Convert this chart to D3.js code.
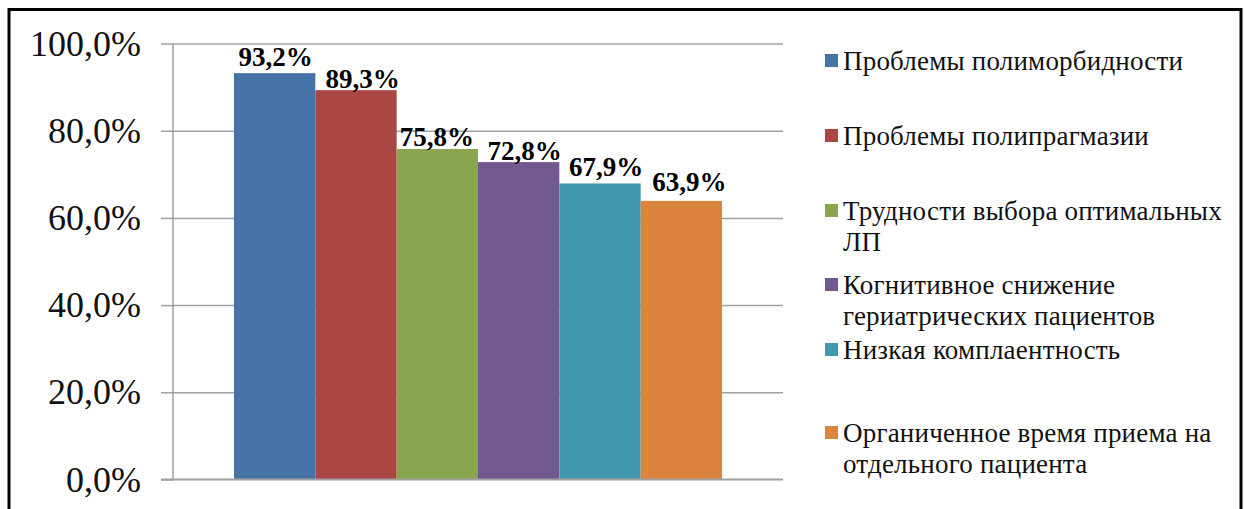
<!DOCTYPE html>
<html>
<head>
<meta charset="utf-8">
<script src="https://cdn.jsdelivr.net/npm/d3@7"></script>
<style>
  html, body { margin: 0; padding: 0; background: #fff; }
  svg { display: block; }
</style>
</head>
<body>
<svg id="chart" width="1245" height="509"></svg>
<script>
// Survey results: share of respondents naming each problem
const seriesNames = [
  "Проблемы полиморбидности",
  "Проблемы полипрагмазии",
  "Трудности выбора оптимальных ЛП",
  "Когнитивное снижение гериатрических пациентов",
  "Низкая комплаентность",
  "Органиченное время приема на отдельного пациента"
];
const seriesValues = [93.2, 89.3, 75.8, 72.8, 67.9, 63.9];
const seriesColors = ["#4572A7", "#AA4643", "#89A54E", "#71588F", "#4198AF", "#DB843D"];
const yTicks = [0, 20, 40, 60, 80, 100];
// legend text broken into lines as laid out in the legend box
const legendLines = [
  ["Проблемы полиморбидности"],
  ["Проблемы полипрагмазии"],
  ["Трудности выбора оптимальных", "ЛП"],
  ["Когнитивное снижение", "гериатрических пациентов"],
  ["Низкая комплаентность"],
  ["Органиченное время приема на", "отдельного пациента"]
];

const svg = d3.select("#chart");
const serif = "'Liberation Serif', 'Times New Roman', serif";

// outer frame
svg.append("rect")
  .attr("x", 9).attr("y", 9.5)
  .attr("width", 1232).attr("height", 540)
  .attr("fill", "#fff").attr("stroke", "#000").attr("stroke-width", 3);

const plot = { left: 173, right: 783, top: 43.5, bottom: 479.5 };

const y = d3.scaleLinear().domain([0, 100]).range([plot.bottom, plot.top]);
const x = d3.scaleBand()
  .domain(seriesNames)
  .range([plot.left, plot.right])
  .paddingInner(0)
  .paddingOuter(0.75);

// gridlines
const grid = svg.append("g")
  .attr("transform", `translate(${plot.left},0)`)
  .call(d3.axisLeft(y).tickValues(yTicks.slice(1)).tickSize(-(plot.right - plot.left)).tickFormat(""));
grid.select(".domain").remove();
grid.selectAll("line").attr("stroke", "#a0a0a0").attr("stroke-width", 1.5);

// y axis with tick marks and labels
const yAxis = svg.append("g")
  .attr("transform", `translate(${plot.left},0)`)
  .call(d3.axisLeft(y)
    .tickValues(yTicks)
    .tickSize(12)
    .tickPadding(20)
    .tickFormat(d => d3.format(".1f")(d).replace(".", ",") + "%"));
yAxis.select(".domain").attr("stroke", "#a0a0a0").attr("stroke-width", 1.5)
  .attr("d", `M0,${plot.top}V${plot.bottom}`);
yAxis.selectAll("line").attr("stroke", "#a0a0a0").attr("stroke-width", 1.5);
yAxis.selectAll("text")
  .attr("font-family", serif).attr("font-size", 36).attr("fill", "#111");

// bars
svg.append("g").selectAll("rect")
  .data(seriesValues)
  .join("rect")
  .attr("x", (d, i) => x(seriesNames[i]))
  .attr("y", d => y(d))
  .attr("width", x.bandwidth())
  .attr("height", d => y(0) - y(d))
  .attr("fill", (d, i) => seriesColors[i]);

// x axis line
svg.append("line")
  .attr("x1", plot.left - 12).attr("x2", plot.right)
  .attr("y1", plot.bottom).attr("y2", plot.bottom)
  .attr("stroke", "#a0a0a0").attr("stroke-width", 2);

// value labels (hand-placed offsets from the bar top centre)
const labelNudge = [[1, -7], [6.5, -2], [-0.5, -3], [6, -2], [6, -7.5], [8, -10]];
svg.append("g").selectAll("text")
  .data(seriesValues)
  .join("text")
  .attr("x", (d, i) => x(seriesNames[i]) + x.bandwidth() / 2 + labelNudge[i][0])
  .attr("y", (d, i) => y(d) + labelNudge[i][1])
  .attr("text-anchor", "middle")
  .attr("font-family", serif).attr("font-weight", "bold").attr("font-size", 27)
  .attr("fill", "#000")
  .text(d => d3.format(".1f")(d).replace(".", ",") + "%");

// legend
const legendBaselines = [70, 145, 220, 294, 359, 442];
const legendLineHeight = 30.5;
const legend = svg.append("g");
legendLines.forEach((lines, i) => {
  const b = legendBaselines[i];
  legend.append("rect")
    .attr("x", 825).attr("y", b - 16)
    .attr("width", 13).attr("height", 13)
    .attr("fill", seriesColors[i]);
  const t = legend.append("text")
    .attr("font-family", serif).attr("font-size", 27).attr("fill", "#111")
    .attr("letter-spacing", 0.2);
  lines.forEach((ln, j) => {
    t.append("tspan").attr("x", 843).attr("y", b + j * legendLineHeight).text(ln);
  });
});
</script>
</body>
</html>
